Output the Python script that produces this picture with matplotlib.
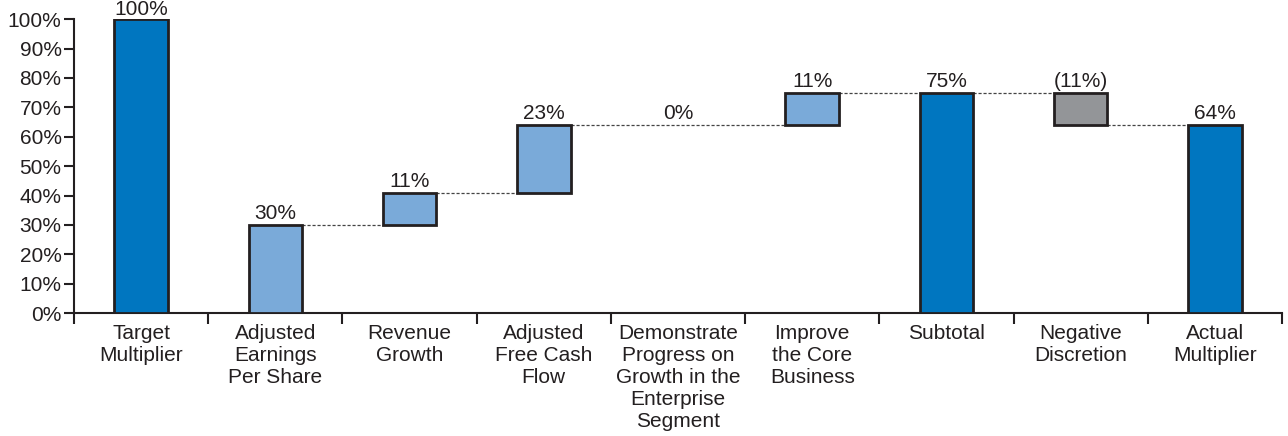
import numpy as np
import matplotlib.pyplot as plt

plt.rcParams['font.family'] = ['Liberation Sans', 'DejaVu Sans']

categories = ['Target\nMultiplier', 'Adjusted\nEarnings\nPer Share', 'Revenue\nGrowth',
              'Adjusted\nFree Cash\nFlow', 'Demonstrate\nProgress on\nGrowth in the\nEnterprise\nSegment',
              'Improve\nthe Core\nBusiness', 'Subtotal', 'Negative\nDiscretion', 'Actual\nMultiplier']
changes = [100, 30, 11, 23, 0, 11, 75, -11, 64]
kinds = ['total', 'step', 'step', 'step', 'step', 'step', 'total', 'neg', 'total']
labels = ['100%', '30%', '11%', '23%', '0%', '11%', '75%', '(11%)', '64%']

colors = {'total': '#0076c0', 'step': '#7aaad9', 'neg': '#939598'}

# floating bars: steps build up from zero after the target bar
bottoms, levels = [], []
running = 0
for i, (v, k) in enumerate(zip(changes, kinds)):
    if k == 'total':
        bottoms.append(0)
        levels.append(v)
        running = 0 if i == 0 else v
    else:
        bottoms.append(running)
        running += v
        levels.append(running)
heights = [lv - b for lv, b in zip(levels, bottoms)]

fig = plt.figure(figsize=(12.88, 4.36), dpi=100)
ax = fig.add_axes([0.0575, 0.282, 0.9378, 0.674])

x = np.arange(len(categories))
w = 0.4
for i in range(len(x)):
    if heights[i] == 0:
        continue
    ax.bar(x[i], heights[i], bottom=bottoms[i], width=w, color=colors[kinds[i]],
           edgecolor='#231f20', linewidth=2, zorder=3)

# dashed connectors from each bar to the next drawn bar
for i in range(1, len(x) - 1):
    if heights[i] == 0:
        continue
    nxt = i + 1
    while heights[nxt] == 0:
        nxt += 1
    ax.plot([x[i] + w / 2, x[nxt] - w / 2], [levels[i], levels[i]], color='#444444',
            linestyle=(0, (2.5, 1.5)), linewidth=0.9, zorder=2)

# value labels
for i in range(len(x)):
    y = max(levels[i], bottoms[i])
    off = 0.2 if y >= 100 else 0.6
    ax.text(x[i], y + off, labels[i], ha='center', va='bottom', fontsize=15, color='#231f20')

ax.set_xlim(-0.5, len(x) - 0.5)
ax.set_ylim(0, 100)
ax.set_yticks(np.arange(0, 101, 10))
ax.set_yticklabels([f'{v}%' for v in range(0, 101, 10)], fontsize=15, color='#231f20')
ax.set_xticks(np.arange(-0.5, len(x), 1))
ax.set_xticklabels([])
ax.set_xticks(x, minor=True)
ax.set_xticklabels(categories, minor=True, fontsize=15, color='#231f20', linespacing=1.2)
ax.tick_params(axis='x', which='major', length=8, width=1.5, color='#231f20', direction='out')
ax.tick_params(axis='x', which='minor', length=0, pad=8)
ax.tick_params(axis='y', length=7, width=1.5, color='#231f20', pad=2)

for s in ['top', 'right']:
    ax.spines[s].set_visible(False)
for s in ['left', 'bottom']:
    ax.spines[s].set_linewidth(1.5)
    ax.spines[s].set_color('#231f20')

fig.savefig('out.png', dpi=100)
